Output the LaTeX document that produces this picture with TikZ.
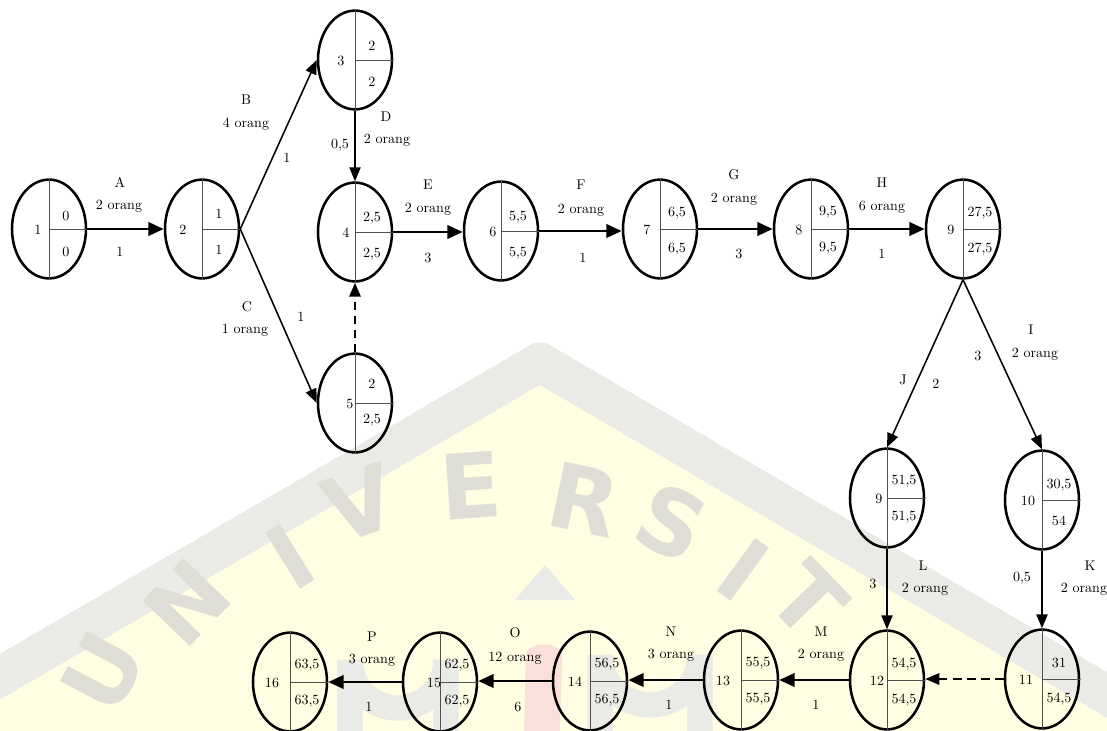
\documentclass[tikz,border=0pt]{standalone}
\usepackage{fontspec}
\newfontfamily\wmfont{DejaVu Sans}
\usetikzlibrary{shapes.geometric,arrows.meta,calc}
\definecolor{wmyellow}{RGB}{255,253,226}
\definecolor{wmgray}{RGB}{234,234,230}
\definecolor{wmletter}{RGB}{222,222,214}
\definecolor{wmpink}{RGB}{250,224,218}
\definecolor{divgray}{RGB}{80,80,80}
\newcommand\evt[5]{%
  \node[ev] (#1) at (#2,#3) {};
  \draw[divline] (#1.north) -- (#1.south) (#1.center) -- (#1.east);
  \node[val] (#1-n) at ($(#1.center)+(#4,1)$) {#5};
}
\newcommand\vals[4]{%
  \node[val] (#1-t) at ($(#1.center)+(17,-15+#4)$) {#2};
  \node[val] (#1-b) at ($(#1.center)+(17,21+#4)$) {#3};
}
\begin{document}
\begin{tikzpicture}[x=0.025cm,y=-0.025cm,
  ev/.style={draw,line width=1.8pt,ellipse,minimum width=1.85cm,minimum height=2.47cm,inner sep=0pt},
  divline/.style={line width=0.7pt,divgray},
  arr/.style={line width=2.1pt,-{Triangle[length=11pt,width=9.5pt]}},
  thinarr/.style={line width=1.1pt,-{Triangle[length=10pt,width=8pt]}},
  dasharr/.style={line width=1.7pt,dash pattern=on 6pt off 4pt,-{Triangle[length=10pt,width=8pt]}},
  val/.style={font=\fontsize{10}{12}\selectfont,inner sep=0pt},
  lbl/.style={font=\fontsize{10}{12}\selectfont,inner sep=0pt},
  wml/.style={font=\wmfont\bfseries\fontsize{64}{64}\selectfont,text=wmletter,inner sep=0pt}
]
\useasboundingbox (0,0) rectangle (1107,731);
% ---- watermark (background) ----
\begin{scope}
\clip (0,0) rectangle (1107,731);
\fill[wmyellow] (-40,700) -- (540,370) -- (1150,720) -- (1150,760) -- (-40,760) -- cycle;
\draw[wmgray,line width=28pt,line join=round] (-40,700) -- (540,362) -- (1150,720);
\foreach \ch/\px/\py/\rot [count=\i] in {U/103/672/62,N/187/603/46,I/290/557/32,V/360/503/19,E/471/486/4,R/584/500/-12,S/672/522/-25,I/743/570/-36,T/808/600/-46} {
  \node[wml,rotate=\rot] (wm\i) at (\px,\py) {\ch};
}
\draw[wmgray,line width=18pt] (350,731) -- (350,660) arc[start angle=180,end angle=0,radius=48] -- (446,731);
\draw[wmgray,line width=18pt] (600,731) -- (600,655) arc[start angle=180,end angle=0,radius=50] -- (700,731);
\fill[wmgray] (515,600) -- (545,565) -- (575,600) -- cycle;
\fill[wmpink] (524,731) -- (526,655) to[out=90,in=90] (562,655) -- (560,731) -- cycle;
\end{scope}
% ---- events ----
\evt{e1}{49}{229}{-11}{1}\vals{e1}{0}{0}{2}
\evt{e2}{202}{229}{-19}{2}\vals{e2}{1}{1}{0}
\evt{e3}{355}{60}{-14}{3}\vals{e3}{2}{2}{1}
\evt{e4}{355}{232}{-9}{4}\vals{e4}{2,5}{2,5}{1}
\evt{e5}{355}{403}{-5}{5}\vals{e5}{2}{2,5}{-4}
\evt{e6}{501}{231}{-8}{6}\vals{e6}{5,5}{5,5}{1}
\evt{e7}{660}{229}{-13}{7}\vals{e7}{6,5}{6,5}{-1}
\evt{e8}{811}{229}{-12}{8}\vals{e8}{9,5}{9,5}{-2}
\evt{e9}{963}{229}{-12}{9}\vals{e9}{27,5}{27,5}{-1}
\evt{e9b}{887}{498}{-8}{9}\vals{e9b}{51,5}{51,5}{-2}
\evt{e10}{1042}{500}{-14}{10}\vals{e10}{30,5}{54}{0}
\evt{e11}{1042}{679}{-16}{11}\vals{e11}{31}{54,5}{-1}
\evt{e12}{887}{680}{-10}{12}\vals{e12}{54,5}{54,5}{-1}
\evt{e13}{741}{680}{-18}{13}\vals{e13}{55,5}{55,5}{-2}
\evt{e14}{590}{681}{-15}{14}\vals{e14}{56,5}{56,5}{-2}
\evt{e15}{440}{682}{-6}{15}\vals{e15}{62,5}{62,5}{-2}
\evt{e16}{290}{682}{-18}{16}\vals{e16}{63,5}{63,5}{-2}
% ---- activities ----
\draw[arr] (e1.east) -- (e2.west);
\draw[thinarr] (e2.east) -- (e3.west);
\draw[thinarr] (e2.east) -- (e5.west);
\draw[thinarr] (e3.south) -- (e4.north);
\draw[dasharr] (e5.north) -- (e4.south);
\draw[arr] (e4.east) -- (e4.east -| e6.west);
\draw[arr] (e6.east) -- (e6.east -| e7.west);
\draw[arr] (e7.east) -- (e7.east -| e8.west);
\draw[arr] (e8.east) -- (e8.east -| e9.west);
\draw[thinarr] (e9.south) -- (e10.north);
\draw[thinarr] (e9.south) -- (e9b.north);
\draw[thinarr] (e9b.south) -- (e12.north);
\draw[thinarr] (e10.south) -- (e11.north);
\draw[dasharr] (e11.west) -- (e11.west -| e12.east);
\draw[arr] (e12.west) -- (e12.west -| e13.east);
\draw[arr] (e13.west) -- (e13.west -| e14.east);
\draw[arr] (e14.west) -- (e14.west -| e15.east);
\draw[arr] (e15.west) -- (e15.west -| e16.east);
% ---- labels ----
\node[lbl] (lA) at (120,182) {A};
\node[lbl] (lA2) at (119,206) {2 orang};
\node[lbl] (lA3) at (120,252) {1};
\node[lbl] (lB) at (246,100) {B};
\node[lbl] (lB2) at (246,124) {4 orang};
\node[lbl] (lB3) at (287,158) {1};
\node[lbl] (lC) at (247,307) {C};
\node[lbl] (lC2) at (245,330) {1 orang};
\node[lbl] (lC3) at (301,317) {1};
\node[lbl] (lD) at (386,117) {D};
\node[lbl] (lD2) at (387,140) {2 orang};
\node[lbl] (lD3) at (340,145) {0,5};
\node[lbl] (lE) at (428,185) {E};
\node[lbl] (lE2) at (428,209) {2 orang};
\node[lbl] (lE3) at (428,258) {3};
\node[lbl] (lF) at (581,185) {F};
\node[lbl] (lF2) at (581,210) {2 orang};
\node[lbl] (lF3) at (583,258) {1};
\node[lbl] (lG) at (734,175) {G};
\node[lbl] (lG2) at (734,199) {2 orang};
\node[lbl] (lG3) at (739,254) {3};
\node[lbl] (lH) at (882,183) {H};
\node[lbl] (lH2) at (882,207) {6 orang};
\node[lbl] (lH3) at (882,254) {1};
\node[lbl] (lI) at (1031,330) {I};
\node[lbl] (lI2) at (1035,354) {2 orang};
\node[lbl] (lI3) at (978,356) {3};
\node[lbl] (lJ) at (903,380) {J};
\node[lbl] (lJ3) at (936,384) {2};
\node[lbl] (lL) at (923,566) {L};
\node[lbl] (lL2) at (925,589) {2 orang};
\node[lbl] (lL3) at (873,584) {3};
\node[lbl] (lK) at (1090,566) {K};
\node[lbl] (lK2) at (1084,589) {2 orang};
\node[lbl] (lK3) at (1022,578) {0,5};
\node[lbl] (lM) at (821,632) {M};
\node[lbl] (lM2) at (821,655) {2 orang};
\node[lbl] (lM3) at (816,705) {1};
\node[lbl] (lN) at (671,632) {N};
\node[lbl] (lN2) at (671,655) {3 orang};
\node[lbl] (lN3) at (669,705) {1};
\node[lbl] (lO) at (515,633) {O};
\node[lbl] (lO2) at (515,658) {12 orang};
\node[lbl] (lO3) at (518,707) {6};
\node[lbl] (lP) at (372,637) {P};
\node[lbl] (lP2) at (372,660) {3 orang};
\node[lbl] (lP3) at (369,707) {1};
\end{tikzpicture}
\end{document}
